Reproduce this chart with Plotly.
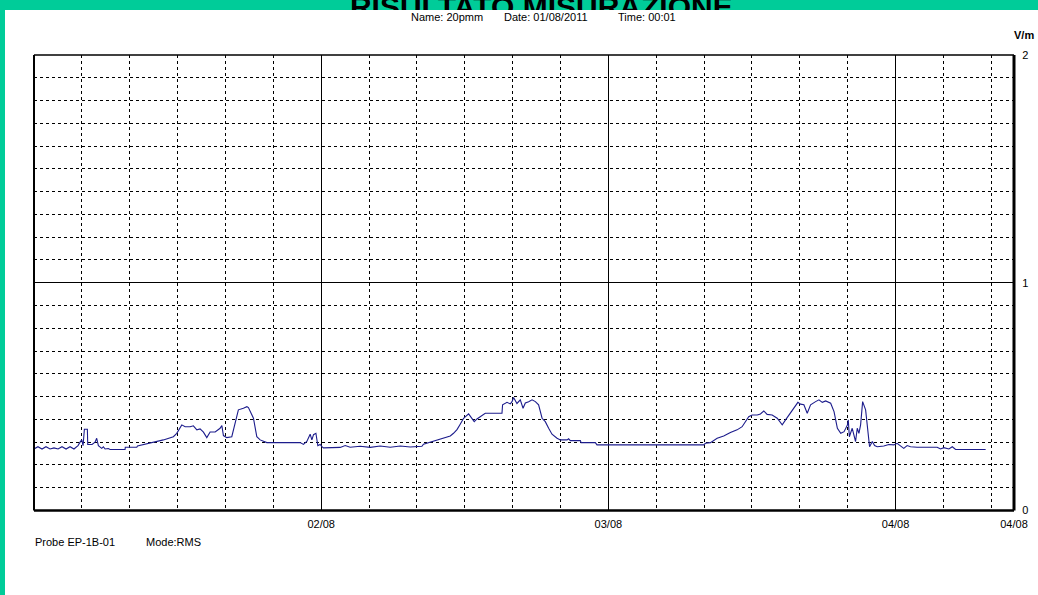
import plotly.graph_objects as go

# ---------------- data ----------------
title_text = "RISULTATO MISURAZIONE"
header_name = "Name: 20pmm"
header_date = "Date: 01/08/2011"
header_time = "Time: 00:01"
unit_label = "V/m"
probe_text = "Probe EP-1B-01"
mode_text = "Mode:RMS"

# hours elapsed since 01/08 00:00
hours = [
    0.0, 0.33, 0.67, 1.00, 1.34, 1.67, 2.01, 2.34, 2.68, 3.01,
    3.34, 3.68, 3.85, 3.99, 4.10, 4.21, 4.46, 4.49, 4.85, 5.10,
    5.24, 5.38, 5.66, 5.80, 5.94, 6.21, 6.36, 7.61, 7.63, 8.59,
    8.65, 9.70, 10.81, 11.65, 11.93, 12.35, 12.63, 13.05, 13.32, 13.61,
    13.88, 14.16, 14.44, 14.72, 15.14, 15.55, 15.70, 15.83, 16.11, 16.53,
    16.81, 17.08, 17.50, 17.79, 17.92, 18.34, 18.62, 18.90, 19.46, 22.24,
    22.52, 22.80, 23.08, 23.22, 23.36, 23.56, 23.72, 23.92, 24.06, 24.19,
    25.59, 26.01, 26.42, 27.26, 28.10, 28.93, 29.77, 30.61, 31.44, 32.42,
    32.55, 33.12, 33.67, 34.23, 34.79, 35.06, 35.35, 35.62, 35.90, 36.32,
    36.60, 36.79, 37.02, 37.30, 37.71, 39.11, 39.16, 39.53, 39.81, 39.95,
    40.08, 40.36, 40.64, 40.87, 41.06, 41.34, 41.62, 41.90, 42.17, 42.46,
    42.73, 43.01, 43.29, 43.71, 43.99, 44.55, 44.68, 44.82, 45.66, 45.72,
    46.91, 47.05, 49.00, 50.68, 52.35, 54.02, 55.97, 56.11, 56.53, 57.09,
    57.64, 58.20, 58.76, 59.18, 59.46, 59.73, 60.02, 60.44, 60.71, 60.99,
    61.27, 61.69, 62.11, 62.53, 62.81, 63.22, 63.64, 63.84, 64.06, 64.34,
    64.62, 64.90, 65.32, 65.60, 65.88, 66.16, 66.58, 66.86, 67.14, 67.42,
    67.70, 67.98, 68.05, 68.14, 68.38, 68.52, 68.66, 68.80, 68.94, 69.08,
    69.25, 69.50, 69.69, 69.83, 70.06, 70.25, 70.47, 71.02, 71.44, 71.86,
    72.13, 72.41, 72.69, 72.97, 73.25, 73.81, 75.48, 75.76, 76.04, 76.46,
    76.74, 77.02, 79.53,
]

# field strength, V/m
values = [
    0.27, 0.28, 0.27, 0.28, 0.27, 0.275, 0.27, 0.28, 0.27, 0.28,
    0.27, 0.285, 0.30, 0.31, 0.285, 0.357, 0.357, 0.29, 0.29, 0.30,
    0.317, 0.285, 0.273, 0.28, 0.27, 0.272, 0.268, 0.268, 0.278, 0.278,
    0.283, 0.295, 0.31, 0.324, 0.339, 0.376, 0.368, 0.368, 0.372, 0.354,
    0.358, 0.344, 0.32, 0.345, 0.345, 0.361, 0.373, 0.329, 0.32, 0.324,
    0.383, 0.442, 0.449, 0.456, 0.452, 0.405, 0.324, 0.31, 0.298, 0.298,
    0.29, 0.303, 0.335, 0.31, 0.333, 0.339, 0.285, 0.29, 0.28, 0.275,
    0.277, 0.285, 0.278, 0.282, 0.277, 0.283, 0.278, 0.283, 0.279, 0.282,
    0.291, 0.30, 0.31, 0.32, 0.327, 0.339, 0.355, 0.379, 0.405, 0.424,
    0.405, 0.39, 0.402, 0.412, 0.427, 0.427, 0.464, 0.475, 0.468, 0.478,
    0.496, 0.47, 0.486, 0.449, 0.472, 0.478, 0.486, 0.478, 0.464, 0.405,
    0.39, 0.361, 0.335, 0.317, 0.31, 0.31, 0.315, 0.307, 0.307, 0.298,
    0.298, 0.288, 0.288, 0.29, 0.288, 0.29, 0.288, 0.295, 0.298, 0.317,
    0.327, 0.342, 0.354, 0.368, 0.39, 0.412, 0.419, 0.419, 0.424, 0.437,
    0.422, 0.419, 0.405, 0.376, 0.398, 0.427, 0.456, 0.475, 0.467, 0.464,
    0.427, 0.464, 0.478, 0.486, 0.475, 0.481, 0.471, 0.434, 0.361, 0.339,
    0.346, 0.376, 0.398, 0.324, 0.361, 0.332, 0.303, 0.361, 0.339, 0.376,
    0.478, 0.442, 0.361, 0.28, 0.303, 0.285, 0.28, 0.283, 0.29, 0.288,
    0.295, 0.285, 0.273, 0.285, 0.28, 0.278, 0.278, 0.27, 0.276, 0.27,
    0.28, 0.268, 0.268,
]

x_tick_vals = [24, 48, 72, 81.9]
x_tick_text = ["02/08", "03/08", "04/08", "04/08"]
y_tick_vals = [0, 1, 2]
y_tick_text = ["0", "1", "2"]
x_range = [0, 81.9]
y_range = [0, 2]

# ---------------- layout helpers ----------------
W, H = 1038, 595
def fx(p):
    return p / W
def fy(p):
    return 1 - p / H

FONT = "Liberation Sans"
GREEN = "#00CC99"
LINE = "#1c1c8c"

fig = go.Figure()

fig.add_trace(go.Scatter(
    x=hours, y=values, mode="lines",
    line=dict(color=LINE, width=1.1),
    xaxis="x", yaxis="y", hoverinfo="skip", showlegend=False,
))

# title, clipped by a thin subplot along the top green band
fig.add_trace(go.Scatter(
    x=[0.5215], y=[0.05], mode="text", text=["<b>" + title_text + "</b>"],
    textfont=dict(family=FONT, size=30, color="black"),
    textposition="middle center", cliponaxis=True,
    xaxis="x2", yaxis="y2", hoverinfo="skip", showlegend=False,
))

dash = "3px,3px"

fig.update_layout(
    width=W, height=H,
    margin=dict(l=0, r=0, t=0, b=0, autoexpand=False),
    paper_bgcolor=GREEN,
    plot_bgcolor="rgba(0,0,0,0)",
    showlegend=False,
    hovermode=False,
    xaxis=dict(
        domain=[fx(34), fx(1014)], range=x_range, anchor="y", automargin=False,
        tickmode="array", tickvals=x_tick_vals, ticktext=x_tick_text,
        showgrid=True, gridcolor="black", gridwidth=1,
        minor=dict(tick0=0, dtick=4, showgrid=True, gridcolor="black",
                   gridwidth=1, griddash=dash),
        zeroline=False, showline=False,
        ticks="outside", ticklen=3, tickcolor="rgba(0,0,0,0)",
        tickfont=dict(family=FONT, size=11, color="black"),
        fixedrange=True,
    ),
    yaxis=dict(
        domain=[fy(510.5), fy(55)], range=y_range, anchor="x", side="right",
        automargin=False,
        tickmode="array", tickvals=y_tick_vals, ticktext=y_tick_text,
        showgrid=True, gridcolor="black", gridwidth=1,
        minor=dict(tick0=0, dtick=0.1, showgrid=True, gridcolor="black",
                   gridwidth=1, griddash=dash),
        zeroline=False, showline=False,
        ticks="outside", ticklen=5, tickcolor="rgba(0,0,0,0)",
        tickfont=dict(family=FONT, size=11, color="black"),
        fixedrange=True,
    ),
    xaxis2=dict(domain=[0, 1], range=[0, 1], anchor="y2", visible=False,
                automargin=False, fixedrange=True),
    yaxis2=dict(domain=[fy(10), 1], range=[0, 1], anchor="x2", visible=False,
                automargin=False, fixedrange=True),
)

shapes = [
    # white panel
    dict(type="rect", xref="paper", yref="paper", x0=fx(5), x1=1, y0=0, y1=fy(10),
         fillcolor="white", line=dict(width=0), layer="below"),
    # plot frame
    dict(type="line", xref="x domain", yref="y domain", x0=0, x1=0, y0=0, y1=1,
         line=dict(color="black", width=2), layer="above"),
    dict(type="line", xref="x domain", yref="y domain", x0=0, x1=1, y0=1, y1=1,
         line=dict(color="black", width=1.5), layer="above"),
    dict(type="line", xref="x domain", yref="y domain", x0=0, x1=1, y0=0, y1=0,
         line=dict(color="black", width=2.5), layer="above"),
    dict(type="line", xref="x domain", yref="y domain", x0=1, x1=1, y0=0, y1=1,
         line=dict(color="black", width=3), layer="above"),
]
fig.update_layout(shapes=shapes)

def ann(text, x, y, xanchor="left", size=11, bold=False):
    return dict(text=("<b>%s</b>" % text) if bold else text,
                xref="paper", yref="paper", x=x, y=y,
                xanchor=xanchor, yanchor="middle", showarrow=False,
                font=dict(family=FONT, size=size, color="black"))

fig.update_layout(annotations=[
    ann(header_name, fx(409), fy(17)),
    ann(header_date, fx(502), fy(17)),
    ann(header_time, fx(616), fy(17)),
    ann(unit_label, fx(1036), fy(35), xanchor="right", size=11, bold=True),
    ann(probe_text, fx(33), fy(542)),
    ann(mode_text, fx(144), fy(542)),
])

fig.write_html(
    "out.html",
    config={"displayModeBar": False},
    post_script="document.body.style.margin='0';document.body.style.overflow='hidden';",
)
